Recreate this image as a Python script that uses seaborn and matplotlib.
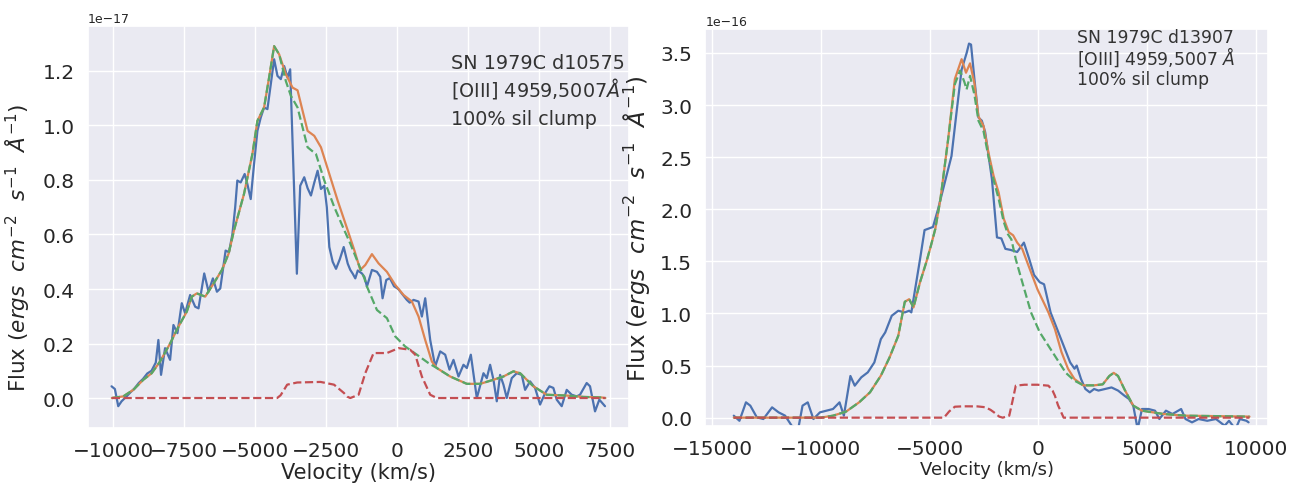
import matplotlib
matplotlib.use("Agg")
import matplotlib.pyplot as plt
import seaborn as sns
import numpy as np

# ---------------- SN 1979C d10575 (fluxes in units of 1e-17) ----------------
left_obs_v = [-10059, -9941, -9823, -9705, -9528, -9400, -9250, -9100, -8950, -8800,
              -8650, -8500, -8408, -8314, -8172, -7995, -7877, -7736, -7583, -7465,
              -7288, -7111, -6993, -6792, -6639, -6486, -6344, -6226, -6038, -5920,
              -5800, -5700, -5625, -5507, -5366, -5271, -5153, -5035, -4917, -4800,
              -4682, -4564, -4446, -4328, -4210, -4092, -3974, -3856, -3762, -3526,
              -3408, -3266, -3148, -3030, -2913, -2795, -2677, -2559, -2470, -2382,
              -2264, -2146, -2010, -1875, -1733, -1643, -1556, -1467, -1379, -1232,
              -1143, -1056, -880, -704, -587, -505, -376, -250, -100, 50,
              200, 350, 450, 587, 763, 880, 998, 1174, 1350, 1526,
              1702, 1854, 1995, 2171, 2347, 2465, 2606, 2817, 3052, 3169,
              3286, 3404, 3521, 3638, 3756, 3873, 4049, 4225, 4401, 4519,
              4695, 4871, 5047, 5223, 5376, 5516, 5634, 5810, 5986, 6162,
              6338, 6455, 6690, 6808, 6984, 7136, 7336]
left_obs_f = [0.043, 0.033, -0.030, -0.012, 0.006, 0.020, 0.035, 0.055, 0.070, 0.090,
              0.100, 0.130, 0.213, 0.085, 0.183, 0.140, 0.268, 0.238, 0.348, 0.311,
              0.378, 0.335, 0.329, 0.457, 0.390, 0.439, 0.390, 0.402, 0.541, 0.535,
              0.600, 0.700, 0.798, 0.791, 0.822, 0.785, 0.730, 0.859, 0.980, 1.029,
              1.066, 1.060, 1.151, 1.243, 1.182, 1.170, 1.218, 1.176, 1.206, 0.456,
              0.779, 0.810, 0.770, 0.743, 0.790, 0.834, 0.767, 0.779, 0.700, 0.554,
              0.500, 0.474, 0.510, 0.554, 0.493, 0.470, 0.456, 0.439, 0.468, 0.457,
              0.444, 0.409, 0.470, 0.463, 0.445, 0.366, 0.433, 0.440, 0.410, 0.400,
              0.380, 0.360, 0.350, 0.360, 0.354, 0.299, 0.366, 0.213, 0.116, 0.171,
              0.159, 0.104, 0.140, 0.079, 0.122, 0.110, 0.159, 0.000, 0.091, 0.073,
              0.122, 0.067, -0.012, 0.085, 0.049, 0.000, 0.073, 0.091, 0.085, 0.030,
              0.061, 0.037, -0.024, 0.018, 0.043, 0.037, -0.006, -0.030, 0.030, 0.012,
              0.006, 0.012, 0.055, 0.043, -0.049, -0.006, -0.030]

left_tot_v = [-10050, -9646, -9292, -8939, -8644, -8349, -7995, -7700, -7406, -7229,
              -7052, -6757, -6462, -6167, -5931, -5743, -5389, -5094, -4917, -4682,
              -4505, -4328, -4151, -3915, -3679, -3502, -3325, -3148, -2913, -2677,
              -2382, -2087, -1733, -1497, -1291, -1115, -880, -646, -352, -59,
              235, 528, 763, 998, 1232, 1408, 1878, 2465, 2934, 3404,
              3756, 4108, 4343, 4812, 5282, 5986, 6573, 7218, 7350]
left_tot_f = [0.000, 0.006, 0.030, 0.067, 0.091, 0.134, 0.200, 0.262, 0.317, 0.372,
              0.384, 0.372, 0.420, 0.470, 0.530, 0.615, 0.749, 0.895, 1.017, 1.066,
              1.176, 1.291, 1.261, 1.188, 1.139, 1.129, 1.054, 0.980, 0.962, 0.920,
              0.822, 0.724, 0.615, 0.541, 0.470, 0.488, 0.528, 0.494, 0.463, 0.415,
              0.378, 0.354, 0.299, 0.213, 0.134, 0.110, 0.079, 0.052, 0.052, 0.067,
              0.079, 0.098, 0.091, 0.043, 0.012, 0.009, 0.004, 0.002, 0.000]

left_nc_v = [-10050, -9646, -9292, -8939, -8644, -8349, -7995, -7700, -7406, -7229,
             -7052, -6757, -6462, -6167, -5931, -5743, -5389, -5094, -4917, -4682,
             -4505, -4328, -4151, -3915, -3738, -3502, -3148, -2853, -2559, -2205,
             -1851, -1643, -1497, -1143, -1056, -704, -352, -59, 293, 704,
             1115, 1408, 1878, 2465, 2934, 3404, 3756, 4108, 4343, 4812,
             5282, 5986, 6573, 7218, 7350]
left_nc_f = [0.000, 0.006, 0.030, 0.067, 0.091, 0.134, 0.200, 0.262, 0.317, 0.372,
             0.384, 0.372, 0.420, 0.470, 0.530, 0.615, 0.749, 0.895, 1.017, 1.066,
             1.176, 1.291, 1.261, 1.163, 1.109, 1.066, 0.920, 0.895, 0.798, 0.700,
             0.615, 0.567, 0.529, 0.438, 0.409, 0.323, 0.293, 0.226, 0.189, 0.159,
             0.128, 0.110, 0.079, 0.052, 0.052, 0.067, 0.079, 0.098, 0.091, 0.043,
             0.012, 0.009, 0.004, 0.002, 0.000]

left_cl_v = [-10050, -4222, -4100, -3950, -3868, -3514, -2689, -2217, -1863, -1750,
             -1643, -1350, -1115, -822, -352, 59, 469, 646, 880, 1174,
             1408, 7350]
left_cl_f = [0.000, 0.000, 0.010, 0.035, 0.049, 0.057, 0.059, 0.049, 0.018, 0.005,
             0.000, 0.012, 0.091, 0.165, 0.165, 0.183, 0.177, 0.159, 0.079, 0.012,
             0.000, 0.000]

left_yticks = [0.0, 0.2, 0.4, 0.6, 0.8, 1.0, 1.2]
left_note = ["SN 1979C d10575", "[OIII] 4959,5007$\\AA$", "100% sil clump"]

# ---------------- SN 1979C d13907 (fluxes in units of 1e-16) ----------------
right_obs_v = [-14000, -13740, -13440, -13240, -12940, -12640, -12240, -11940, -11640, -11340,
               -11040, -10840, -10600, -10340, -10040, -9740, -9440, -9140, -8940, -8640,
               -8440, -8140, -7840, -7540, -7240, -7040, -6740, -6440, -6140, -5940,
               -5840, -5640, -5440, -5232, -4845, -4613, -4226, -3994, -3762, -3529,
               -3297, -3189, -3096, -2941, -2755, -2600, -2446, -2136, -1904, -1703,
               -1517, -1285, -975, -666, -433, -201, 60, 260, 560, 860,
               1160, 1460, 1660, 1760, 1960, 2160, 2360, 2560, 2760, 3060,
               3360, 3660, 3960, 4160, 4360, 4560, 4760, 5060, 5360, 5560,
               5860, 6160, 6560, 6760, 7060, 7360, 7760, 8160, 8560, 8760,
               9060, 9260, 9560, 9660]
right_obs_f = [0.019, -0.030, 0.147, 0.115, 0.003, -0.013, 0.099, 0.051, 0.019, -0.077,
               -0.110, 0.115, 0.147, -0.013, 0.051, 0.067, 0.083, 0.147, 0.019, 0.400,
               0.307, 0.387, 0.435, 0.530, 0.754, 0.818, 0.978, 1.026, 1.010, 1.026,
               1.010, 1.265, 1.520, 1.800, 1.830, 2.000, 2.320, 2.510, 2.930, 3.340,
               3.500, 3.590, 3.580, 3.250, 2.880, 2.850, 2.740, 2.290, 1.730, 1.720,
               1.620, 1.610, 1.590, 1.680, 1.530, 1.370, 1.300, 1.280, 1.010, 0.850,
               0.690, 0.530, 0.470, 0.500, 0.370, 0.275, 0.243, 0.275, 0.260, 0.275,
               0.290, 0.260, 0.210, 0.180, 0.115, -0.110, 0.083, 0.083, 0.067, -0.013,
               0.067, 0.035, 0.083, -0.013, -0.045, -0.013, -0.030, -0.013, -0.077, -0.030,
               -0.110, -0.013, -0.030, -0.045]

right_tot_v = [-14000, -10000, -9440, -8840, -8240, -7740, -7240, -6840, -6440, -6140,
               -5940, -5740, -5440, -5140, -4940, -4740, -4500, -4149, -3839, -3529,
               -3328, -3142, -2941, -2755, -2523, -2291, -2059, -1827, -1594, -1362,
               -1161, -975, -743, -511, -40, 460, 760, 1060, 1360, 1660,
               2060, 2560, 2960, 3260, 3460, 3660, 3960, 4360, 4760, 5760,
               6760, 9700]
right_tot_f = [0.000, 0.000, 0.019, 0.058, 0.147, 0.243, 0.403, 0.578, 0.786, 1.112,
               1.137, 1.058, 1.300, 1.500, 1.650, 1.810, 2.100, 2.670, 3.250, 3.440,
               3.310, 3.400, 3.210, 2.890, 2.800, 2.540, 2.320, 2.160, 1.910, 1.780,
               1.750, 1.680, 1.620, 1.490, 1.230, 1.010, 0.850, 0.630, 0.470, 0.370,
               0.310, 0.310, 0.320, 0.400, 0.430, 0.400, 0.270, 0.115, 0.067, 0.035,
               0.019, 0.010]

right_nc_v = [-14000, -10000, -9440, -8840, -8240, -7740, -7240, -6840, -6440, -6140,
              -5940, -5740, -5440, -5140, -4940, -4740, -4500, -4149, -3839, -3600,
              -3400, -3300, -3142, -2941, -2755, -2523, -2291, -2059, -1827, -1594,
              -1400, -1240, -1040, -740, -340, 60, 460, 860, 1260, 1660,
              2060, 2560, 2960, 3260, 3460, 3660, 3960, 4360, 4760, 5760,
              6760, 9700]
right_nc_f = [0.000, 0.000, 0.019, 0.058, 0.147, 0.243, 0.403, 0.578, 0.786, 1.112,
              1.137, 1.058, 1.300, 1.500, 1.650, 1.810, 2.100, 2.670, 3.200, 3.330,
              3.220, 3.150, 3.280, 3.100, 2.850, 2.750, 2.500, 2.280, 2.100, 1.880,
              1.760, 1.710, 1.520, 1.300, 1.010, 0.820, 0.690, 0.560, 0.430, 0.355,
              0.310, 0.310, 0.320, 0.400, 0.430, 0.400, 0.270, 0.115, 0.067, 0.035,
              0.019, 0.010]

right_cl_v = [-14000, -4340, -4100, -3840, -3440, -2800, -2440, -2200, -2040, -1800,
              -1640, -1340, -1200, -1040, -640, -40, 460, 650, 760, 900,
              1160, 9700]
right_cl_f = [0.000, 0.000, 0.060, 0.105, 0.109, 0.108, 0.100, 0.075, 0.051, 0.010,
              0.000, 0.019, 0.150, 0.307, 0.316, 0.316, 0.307, 0.260, 0.210, 0.120,
              0.000, 0.000]

right_yticks = [0.0, 0.5, 1.0, 1.5, 2.0, 2.5, 3.0, 3.5]
right_note = ["SN 1979C d13907", "[OIII] 4959,5007 $\\AA$", "100% sil clump"]

panels = [
    dict(scale=1e-17,
         obs=(left_obs_v, left_obs_f), tot=(left_tot_v, left_tot_f),
         nc=(left_nc_v, left_nc_f), cl=(left_cl_v, left_cl_f),
         xlim=(-10900, 8190), ylim=(-0.11, 1.365),
         xticks=[-10000, -7500, -5000, -2500, 0, 2500, 5000, 7500],
         yticks=left_yticks,
         note=left_note, note_x=0.671, note_y=[0.896, 0.826, 0.756], note_size=13.8,
         rect=[0.0675, 0.1227, 0.4169, 0.8221],
         tick_size=14.5, xlabel_size=15, ylabel_size=15.5,
         ylabel_xy=(-0.103, 0.45), xlabel_pad=1.5),
    dict(scale=1e-16,
         obs=(right_obs_v, right_obs_f), tot=(right_tot_v, right_tot_f),
         nc=(right_nc_v, right_nc_f), cl=(right_cl_v, right_cl_f),
         xlim=(-15300, 10550), ylim=(-0.08, 3.73),
         xticks=[-15000, -10000, -5000, 0, 5000, 10000],
         yticks=right_yticks,
         note=right_note, note_x=0.66, note_y=[0.967, 0.912, 0.861], note_size=12.4,
         rect=[0.5431, 0.1268, 0.4330, 0.8119],
         tick_size=14.5, xlabel_size=13, ylabel_size=16.5,
         ylabel_xy=(-0.095, 0.5), xlabel_pad=1.0),
]

sns.set_theme(style="darkgrid")
palette = sns.color_palette("deep")
plt.rcParams["font.family"] = ["DejaVu Sans"]

fig = plt.figure(figsize=(12.99, 4.89), dpi=100)

for p in panels:
    ax = fig.add_axes(p["rect"])
    s = p["scale"]
    v, f = p["obs"]
    sns.lineplot(x=v, y=np.asarray(f) * s, ax=ax, color=palette[0],
                 linewidth=1.6, estimator=None, sort=False)
    v, f = p["tot"]
    sns.lineplot(x=v, y=np.asarray(f) * s, ax=ax, color=palette[1],
                 linewidth=1.6, estimator=None, sort=False)
    v, f = p["nc"]
    sns.lineplot(x=v, y=np.asarray(f) * s, ax=ax, color=palette[2],
                 linewidth=1.6, linestyle="--", estimator=None, sort=False)
    v, f = p["cl"]
    sns.lineplot(x=v, y=np.asarray(f) * s, ax=ax, color=palette[3],
                 linewidth=1.6, linestyle="--", estimator=None, sort=False)

    ax.set_xlim(*p["xlim"])
    ax.set_ylim(p["ylim"][0] * s, p["ylim"][1] * s)
    ax.set_xticks(p["xticks"])
    ax.set_yticks(np.asarray(p["yticks"]) * s)
    ax.tick_params(labelsize=p["tick_size"])
    ax.yaxis.get_offset_text().set_fontsize(9)

    ax.set_xlabel("Velocity (km/s)", fontsize=p["xlabel_size"], labelpad=p["xlabel_pad"])
    ax.set_ylabel(r"Flux ($ergs\ \ cm^{-2}\ \ s^{-1}\ \ \AA^{-1}$)",
                  fontsize=p["ylabel_size"])
    ax.yaxis.set_label_coords(*p["ylabel_xy"])

    # annotation block, one line per text so the baselines are evenly spaced
    for line, y in zip(p["note"], p["note_y"]):
        ax.text(p["note_x"], y, line, transform=ax.transAxes,
                ha="left", va="baseline", fontsize=p["note_size"], color="0.2")

fig.savefig("out.png", dpi=100)
